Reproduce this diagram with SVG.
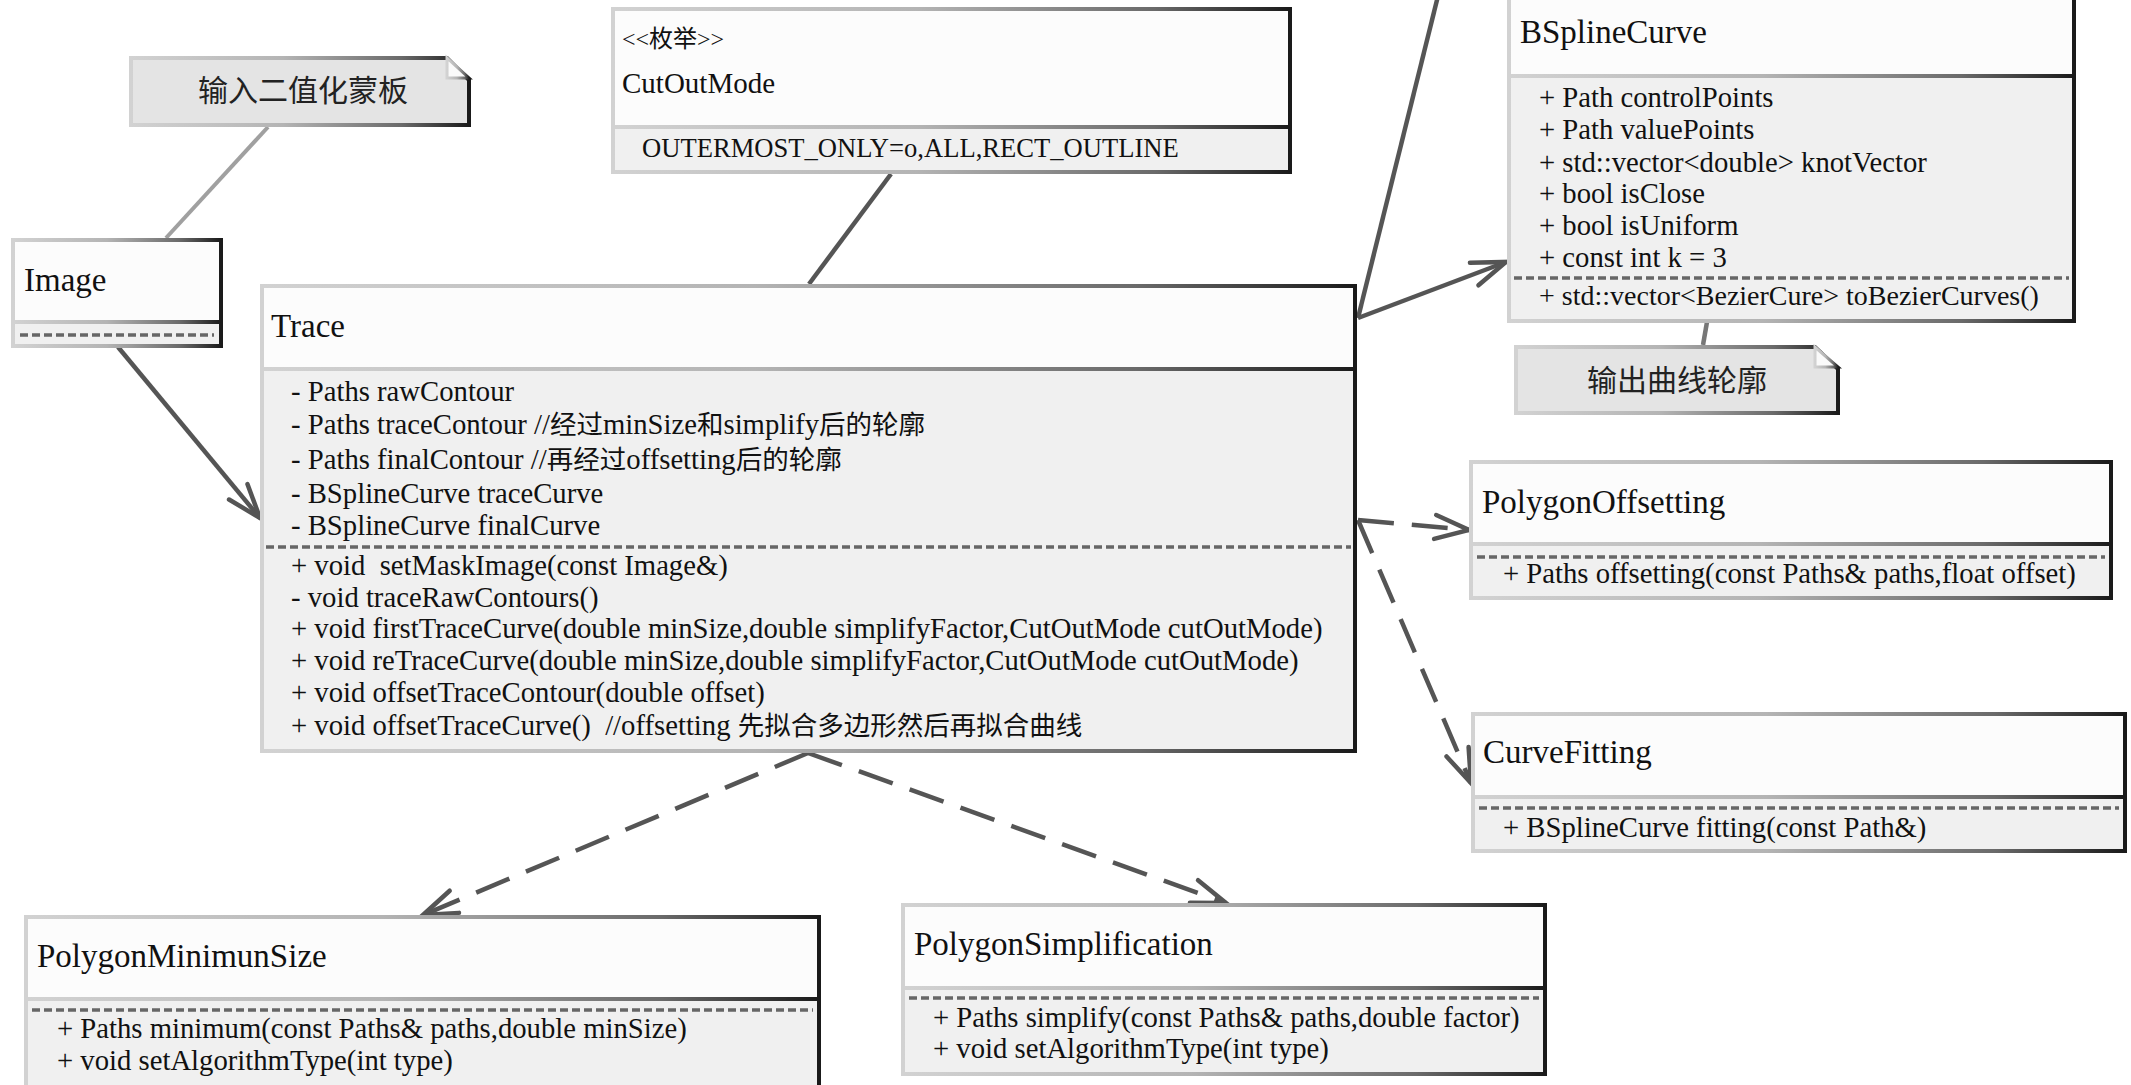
<svg xmlns="http://www.w3.org/2000/svg" width="2131" height="1085" viewBox="0 0 2131 1085">
<defs>
<linearGradient id="edge" x1="0" y1="0" x2="1" y2="0">
<stop offset="0" stop-color="#d2d2d2"/>
<stop offset="0.45" stop-color="#b4b4b4"/>
<stop offset="0.8" stop-color="#6a6a6a"/>
<stop offset="1" stop-color="#1a1a1a"/>
</linearGradient>
<marker id="open" markerUnits="userSpaceOnUse" markerWidth="50" markerHeight="40" viewBox="-40 -20 50 40" refX="0" refY="0" orient="auto" overflow="visible">
<path d="M-34,-12 L0,0 L-34,12" fill="none" stroke="#555" stroke-width="4.5" stroke-dasharray="none" stroke-linecap="round" stroke-linejoin="miter"/>
</marker>
<style>
.hdr{fill:#fcfcfc;stroke:url(#edge);stroke-width:4}
.body{fill:#f0f0f0;stroke:url(#edge);stroke-width:4}
.note{fill:#e4e4e4;stroke:url(#edge);stroke-width:4}
.fold{fill:#fafafa;stroke:url(#edge);stroke-width:3}
.t{font-family:"Liberation Serif","Noto Sans CJK SC",serif;fill:#111}
.title{font-size:33px}
.mem{font-size:28.7px}
.zh{font-size:26.5px}
.cjk{font-family:"Noto Sans CJK SC","Liberation Serif",sans-serif;font-size:30px;fill:#222}
.sep{stroke:#666;stroke-width:3.5;stroke-dasharray:8 4;fill:none}
.conn{stroke:#555;stroke-width:4.5;fill:none}
.dash{stroke-dasharray:36 18}
.ncon{stroke:#a0a0a0;stroke-width:4;fill:none}
</style>
</defs>

<g id="connectors">
<line class="ncon" x1="268" y1="127" x2="166" y2="238"/>
<line class="conn" x1="118" y1="347" x2="260" y2="518" marker-end="url(#open)"/>
<line class="conn" x1="891" y1="174" x2="809" y2="284"/>
<line class="conn" x1="1358" y1="318" x2="1438" y2="-4"/>
<line class="conn" x1="1358" y1="318" x2="1506" y2="262" marker-end="url(#open)"/>
<line class="conn" style="stroke:#777" x1="1703" y1="345" x2="1707" y2="322"/>
<line class="conn dash" x1="1358" y1="520" x2="1469" y2="530" marker-end="url(#open)"/>
<line class="conn dash" x1="1358" y1="520" x2="1471" y2="783" marker-end="url(#open)"/>
<line class="conn dash" x1="808" y1="753" x2="423" y2="915" marker-end="url(#open)"/>
<line class="conn dash" x1="808" y1="753" x2="1226" y2="903" marker-end="url(#open)"/>
</g>

<g id="note-input">
<path class="note" d="M131,58 H447 L469,80 V125 H131 Z"/>
<path class="fold" d="M447,58 V78 H469 Z"/>
<text class="cjk" x="303" y="101" text-anchor="middle">输入二值化蒙板</text>
</g>

<g id="node-image">
<rect class="hdr" x="13" y="240" width="208" height="82"/>
<rect class="body" x="13" y="322" width="208" height="24"/>
<text class="t title" x="24" y="291">Image</text>
<line class="sep" x1="20" y1="335" x2="214" y2="335"/>
</g>

<g id="node-cutoutmode">
<rect class="hdr" x="613" y="9" width="677" height="118"/>
<rect class="body" x="613" y="127" width="677" height="45"/>
<text class="t" style="font-size:24px" x="622" y="47">&lt;&lt;枚举&gt;&gt;</text>
<text class="t" style="font-size:29px" x="622" y="93">CutOutMode</text>
<text class="t" style="font-size:26.6px" x="642" y="157">OUTERMOST_ONLY=o,ALL,RECT_OUTLINE</text>
</g>

<g id="node-trace">
<rect class="hdr" x="262" y="286" width="1093" height="83"/>
<rect class="body" x="262" y="369" width="1093" height="382"/>
<text class="t title" x="271" y="337">Trace</text>
<text class="t mem" x="291" y="401">- Paths rawContour</text>
<text class="t mem" x="291" y="434">- Paths traceContour //<tspan class="zh">经过</tspan>minSize<tspan class="zh">和</tspan>simplify<tspan class="zh">后的轮廓</tspan></text>
<text class="t mem" x="291" y="469">- Paths finalContour //<tspan class="zh">再经过</tspan>offsetting<tspan class="zh">后的轮廓</tspan></text>
<text class="t mem" x="291" y="503">- BSplineCurve traceCurve</text>
<text class="t mem" x="291" y="535">- BSplineCurve finalCurve</text>
<line class="sep" x1="266" y1="547" x2="1351" y2="547"/>
<text class="t mem" x="291" y="575">+ void &#160;setMaskImage(const Image&amp;)</text>
<text class="t mem" x="291" y="607">- void traceRawContours()</text>
<text class="t mem" x="291" y="638">+ void firstTraceCurve(double minSize,double simplifyFactor,CutOutMode cutOutMode)</text>
<text class="t mem" x="291" y="670">+ void reTraceCurve(double minSize,double simplifyFactor,CutOutMode cutOutMode)</text>
<text class="t mem" x="291" y="702">+ void offsetTraceContour(double offset)</text>
<text class="t mem" x="291" y="735">+ void offsetTraceCurve() &#160;//offsetting <tspan class="zh">先拟合多边形然后再拟合曲线</tspan></text>
</g>

<g id="node-bsplinecurve">
<rect class="hdr" x="1509" y="-10" width="565" height="86"/>
<rect class="body" x="1509" y="76" width="565" height="245"/>
<text class="t title" x="1520" y="43">BSplineCurve</text>
<text class="t mem" x="1539" y="107">+ Path controlPoints</text>
<text class="t mem" x="1539" y="139">+ Path valuePoints</text>
<text class="t mem" x="1539" y="172">+ std::vector&lt;double&gt; knotVector</text>
<text class="t mem" x="1539" y="203">+ bool isClose</text>
<text class="t mem" x="1539" y="235">+ bool isUniform</text>
<text class="t mem" x="1539" y="267">+ const int k = 3</text>
<line class="sep" x1="1514" y1="278" x2="2069" y2="278"/>
<text class="t" style="font-size:28px" x="1539" y="305">+ std::vector&lt;BezierCure&gt; toBezierCurves()</text>
</g>

<g id="note-output">
<path class="note" d="M1516,347 H1815 L1838,369 V413 H1516 Z"/>
<path class="fold" d="M1815,347 V367 H1838 Z"/>
<text class="cjk" x="1677" y="391" text-anchor="middle">输出曲线轮廓</text>
</g>

<g id="node-polygonoffsetting">
<rect class="hdr" x="1471" y="462" width="640" height="82"/>
<rect class="body" x="1471" y="544" width="640" height="54"/>
<text class="t title" x="1482" y="513">PolygonOffsetting</text>
<line class="sep" x1="1477" y1="557" x2="2105" y2="557"/>
<text class="t mem" x="1503" y="583">+ Paths offsetting(const Paths&amp; paths,float offset)</text>
</g>

<g id="node-curvefitting">
<rect class="hdr" x="1473" y="714" width="652" height="83"/>
<rect class="body" x="1473" y="797" width="652" height="54"/>
<text class="t title" x="1483" y="763">CurveFitting</text>
<line class="sep" x1="1479" y1="808" x2="2119" y2="808"/>
<text class="t mem" x="1503" y="837">+ BSplineCurve fitting(const Path&amp;)</text>
</g>

<g id="node-polygonminimunsize">
<rect class="hdr" x="26" y="917" width="793" height="82"/>
<rect class="body" x="26" y="999" width="793" height="100"/>
<text class="t title" x="37" y="967">PolygonMinimunSize</text>
<line class="sep" x1="32" y1="1010" x2="813" y2="1010"/>
<text class="t mem" x="57" y="1038">+ Paths minimum(const Paths&amp; paths,double minSize)</text>
<text class="t mem" x="57" y="1070">+ void setAlgorithmType(int type)</text>
</g>

<g id="node-polygonsimplification">
<rect class="hdr" x="903" y="905" width="642" height="83"/>
<rect class="body" x="903" y="988" width="642" height="86"/>
<text class="t title" x="914" y="955">PolygonSimplification</text>
<line class="sep" x1="909" y1="998" x2="1539" y2="998"/>
<text class="t mem" x="933" y="1027">+ Paths simplify(const Paths&amp; paths,double factor)</text>
<text class="t mem" x="933" y="1058">+ void setAlgorithmType(int type)</text>
</g>
</svg>
